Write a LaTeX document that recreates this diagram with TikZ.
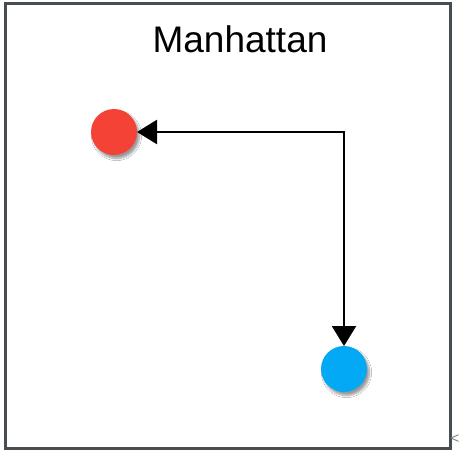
\documentclass[tikz,border=0pt]{standalone}
\usepackage{fontspec}
\setmainfont{Liberation Sans}
\usetikzlibrary{arrows.meta,shadows.blur}
\definecolor{frameclr}{RGB}{72,77,82}
\definecolor{redclr}{RGB}{244,67,54}
\definecolor{blueclr}{RGB}{3,169,244}
\tikzset{
  dot/.style={circle,minimum size=46pt,inner sep=0pt,outer sep=0pt,draw=none,
    blur shadow={shadow xshift=2.5pt,shadow yshift=-3.5pt,shadow blur steps=6,shadow opacity=40}},
  link/.style={line width=2.4pt,{Triangle[length=20pt,width=24pt]}-{Triangle[length=20pt,width=24pt]}}
}
\begin{document}
\begin{tikzpicture}[x=1pt,y=-1pt]
\useasboundingbox (0,0) rectangle (461,458);
\fill[white] (0,0) rectangle (461,458);
\draw[frameclr,line width=2.2pt] (5.5,3.5) rectangle (450.5,448.5);
\node[anchor=base,inner sep=0pt] (title) at (240,52) {\fontsize{37}{40}\selectfont Manhattan};
\node[dot,fill=redclr] (red) at (114,132) {};
\node[dot,fill=blueclr] (blue) at (344,369) {};
\draw[link] (red) -| (blue);
\node[text=gray,inner sep=0pt] (mark) at (455,439) {\fontsize{15}{15}\selectfont <};
\end{tikzpicture}
\end{document}
